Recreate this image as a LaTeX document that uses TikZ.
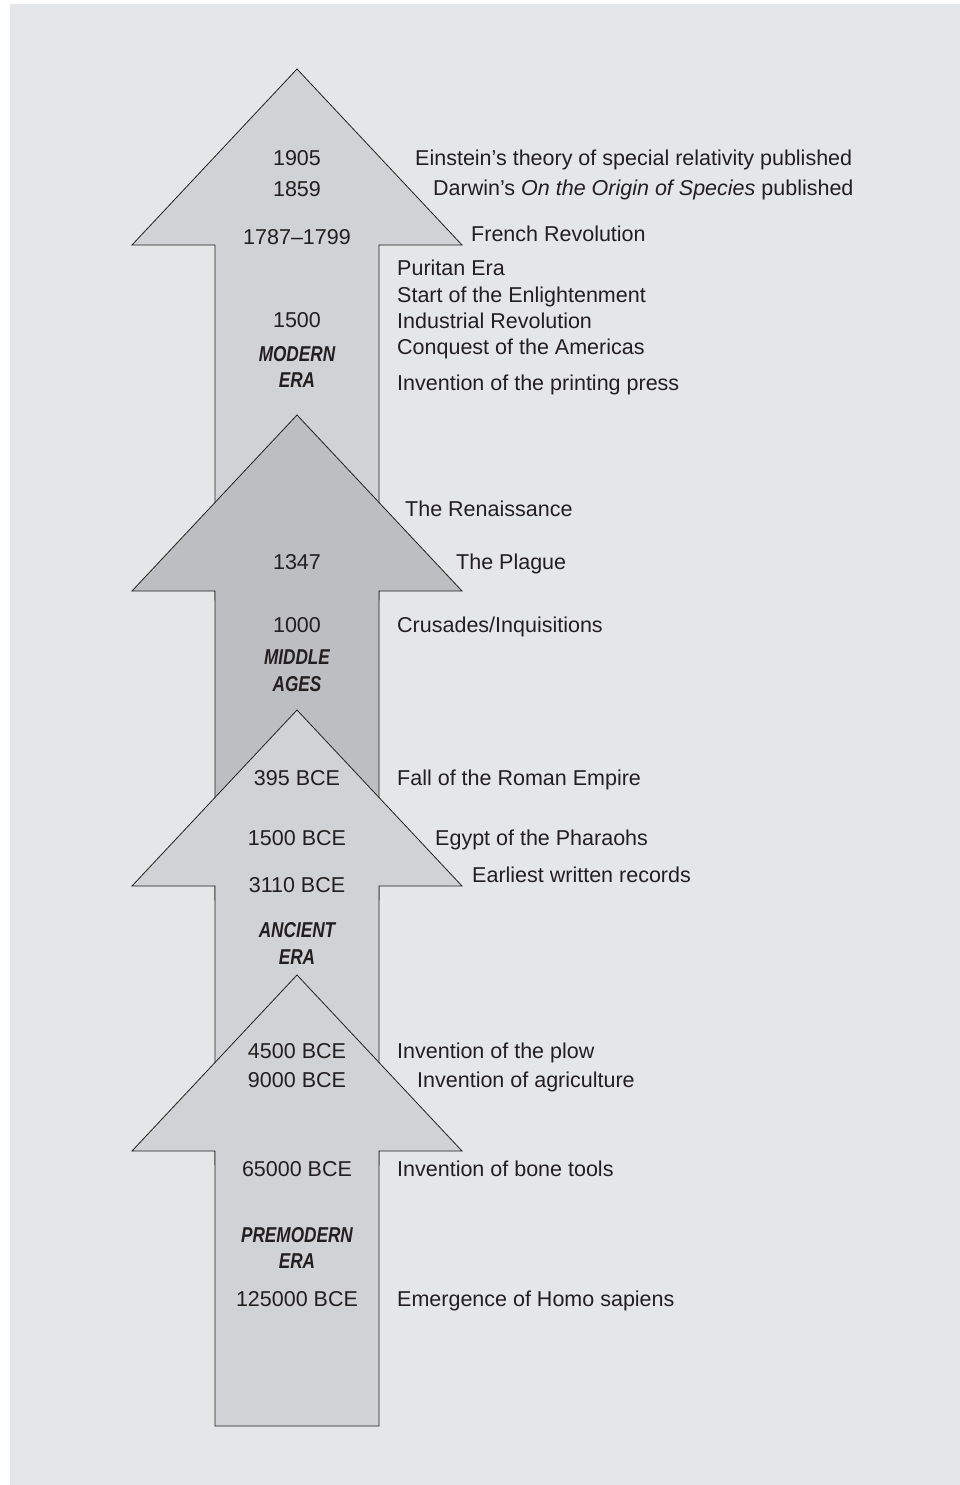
\documentclass[tikz,border=0pt]{standalone}
\usepackage{fontspec}
\setmainfont{Liberation Sans}
\newfontfamily\erafont{Liberation Sans}[FakeStretch=0.8]
\definecolor{bgc}{RGB}{229,230,232}
\definecolor{lightfill}{RGB}{209,210,213}
\definecolor{darkfill}{RGB}{189,190,193}
\definecolor{ink}{RGB}{35,31,32}
\newcommand\eraarrow[3]{%
  \draw[arrowline, fill=#3] (297,#1) -- (462,#1+176) -- (379,#1+176) -- (379,#2)
    -- (215,#2) -- (215,#1+176) -- (132,#1+176) -- cycle;}
\begin{document}
\begin{tikzpicture}[x=1pt,y=-1pt,
  arrowline/.style={draw=ink, line width=0.8pt, line join=miter},
  txt/.style={inner sep=0pt, text=ink, font=\fontsize{21.5}{24}\selectfont},
  yearlbl/.style={txt, anchor=base},
  eventlbl/.style={txt, anchor=base west},
  eralbl/.style={txt, anchor=base, font=\fontsize{21.5}{24}\selectfont\erafont\bfseries\itshape}]
\useasboundingbox (0,0) rectangle (960,1485);
\fill[bgc] (10,4) rectangle (960,1485);
% arrows
\eraarrow{69}{600}{lightfill}
\eraarrow{415}{900}{darkfill}
\eraarrow{710}{1165}{lightfill}
\eraarrow{975}{1426}{lightfill}
% years and era names
\node[yearlbl] (y1905) at (297,165) {1905};
\node[yearlbl] (y1859) at (297,196) {1859};
\node[yearlbl] (y1787) at (297,244) {1787–1799};
\node[yearlbl] (y1500) at (297,327) {1500};
\node[eralbl] (modern) at (297,361) {MODERN};
\node[eralbl] (modernera) at (297,387) {ERA};
\node[yearlbl] (y1347) at (297,569) {1347};
\node[yearlbl] (y1000) at (297,632) {1000};
\node[eralbl] (middle) at (297,664) {MIDDLE};
\node[eralbl] (ages) at (297,691) {AGES};
\node[yearlbl] (y395) at (297,785) {395 BCE};
\node[yearlbl] (y1500b) at (297,845) {1500 BCE};
\node[yearlbl] (y3110) at (297,892) {3110 BCE};
\node[eralbl] (ancient) at (297,937) {ANCIENT};
\node[eralbl] (ancientera) at (297,964) {ERA};
\node[yearlbl] (y4500) at (297,1058) {4500 BCE};
\node[yearlbl] (y9000) at (297,1087) {9000 BCE};
\node[yearlbl] (y65000) at (297,1176) {65000 BCE};
\node[eralbl] (premodern) at (297,1242) {PREMODERN};
\node[eralbl] (premodernera) at (297,1268) {ERA};
\node[yearlbl] (y125000) at (297,1306) {125000 BCE};
% events
\node[eventlbl] (einstein) at (415,165) {Einstein’s theory of special relativity published};
\node[eventlbl] (darwin) at (433,195) {Darwin’s \textit{On the Origin of Species} published};
\node[eventlbl] (french) at (471,241) {French Revolution};
\node[eventlbl] (puritan) at (397,275) {Puritan Era};
\node[eventlbl] (enlight) at (397,302) {Start of the Enlightenment};
\node[eventlbl] (industrial) at (397,328) {Industrial Revolution};
\node[eventlbl] (conquest) at (397,354) {Conquest of the Americas};
\node[eventlbl] (printing) at (397,390) {Invention of the printing press};
\node[eventlbl] (renaissance) at (405,516) {The Renaissance};
\node[eventlbl] (plague) at (456,569) {The Plague};
\node[eventlbl] (crusades) at (397,632) {Crusades/Inquisitions};
\node[eventlbl] (rome) at (397,785) {Fall of the Roman Empire};
\node[eventlbl] (egypt) at (435,845) {Egypt of the Pharaohs};
\node[eventlbl] (records) at (472,882) {Earliest written records};
\node[eventlbl] (plow) at (397,1058) {Invention of the plow};
\node[eventlbl] (agri) at (417,1087) {Invention of agriculture};
\node[eventlbl] (bone) at (397,1176) {Invention of bone tools};
\node[eventlbl] (homo) at (397,1306) {Emergence of Homo sapiens};
\end{tikzpicture}
\end{document}
